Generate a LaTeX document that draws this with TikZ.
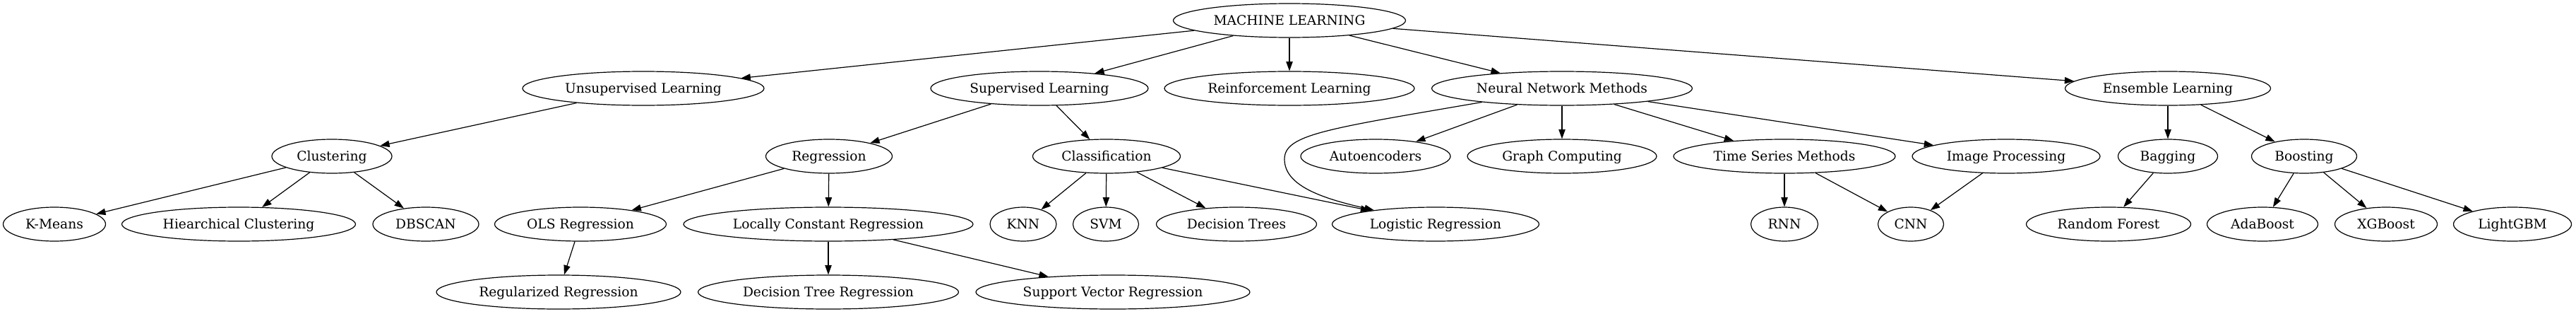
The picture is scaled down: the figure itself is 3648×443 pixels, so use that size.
\documentclass[tikz,border=0pt]{standalone}
\usepackage{fontspec}
\setmainfont{DejaVu Serif}
\usetikzlibrary{shapes.geometric,arrows.meta}
\begin{document}
\begin{tikzpicture}[x=0.75pt,y=-0.75pt,
  nd/.style={ellipse,draw,line width=0.9pt,minimum height=36pt,inner xsep=-60pt,inner ysep=0pt,
             text height=12pt,text depth=2pt,font=\fontsize{14}{16}\selectfont},
  nw/.style={minimum width=#1*0.75pt},
  arr/.style={line width=0.9pt,-{Triangle[length=10pt,width=7pt]}}]
\useasboundingbox (0,0) rectangle (3648,443);
% row 1
\node[nd,nw=329] (ml) at (1826,29) {MACHINE LEARNING};
% row 2
\node[nd,nw=342] (ul)  at (911,125)  {Unsupervised Learning};
\node[nd,nw=308] (sl)  at (1472,125) {Supervised Learning};
\node[nd,nw=354] (rl)  at (1826,125) {Reinforcement Learning};
\node[nd,nw=369] (nnm) at (2212,125) {Neural Network Methods};
\node[nd,nw=291] (el)  at (3070,125) {Ensemble Learning};
% row 3
\node[nd,nw=170] (clu) at (470,221)  {Clustering};
\node[nd,nw=179] (reg) at (1174,221) {Regression};
\node[nd,nw=209] (cls) at (1567,221) {Classification};
\node[nd,nw=212] (ae)  at (1948,221) {Autoencoders};
\node[nd,nw=268] (gc)  at (2212,221) {Graph Computing};
\node[nd,nw=314] (tsm) at (2527,221) {Time Series Methods};
\node[nd,nw=266] (ip)  at (2841,221) {Image Processing};
\node[nd,nw=141] (bag) at (3070,221) {Bagging};
\node[nd,nw=149] (boo) at (3263,221) {Boosting};
% row 4
\node[nd,nw=145] (km)   at (77,317)   {K-Means};
\node[nd,nw=331] (hc)   at (338,317)  {Hiearchical Clustering};
\node[nd,nw=150] (db)   at (603,317)  {DBSCAN};
\node[nd,nw=243] (ols)  at (822,317)  {OLS Regression};
\node[nd,nw=410] (lcr)  at (1173,317) {Locally Constant Regression};
\node[nd,nw=94]  (knn)  at (1449,317) {KNN};
\node[nd,nw=93]  (svm)  at (1566,317) {SVM};
\node[nd,nw=227] (dt)   at (1751,317) {Decision Trees};
\node[nd,nw=293] (lr)   at (2033,317) {Logistic Regression};
\node[nd,nw=95]  (rnn)  at (2527,317) {RNN};
\node[nd,nw=93]  (cnn)  at (2706,317) {CNN};
\node[nd,nw=233] (rf)   at (2986,317) {Random Forest};
\node[nd,nw=157] (ada)  at (3204,317) {AdaBoost};
\node[nd,nw=145] (xgb)  at (3379,317) {XGBoost};
\node[nd,nw=167] (lgbm) at (3558,317) {LightGBM};
% row 5
\node[nd,nw=346] (rr)  at (791,413)  {Regularized Regression};
\node[nd,nw=369] (dtr) at (1173,413) {Decision Tree Regression};
\node[nd,nw=388] (svr) at (1576,413) {Support Vector Regression};
% edges
\foreach \a/\b in {ml/ul,ml/sl,ml/rl,ml/nnm,ml/el,
  ul/clu,clu/km,clu/hc,clu/db,
  sl/reg,sl/cls,reg/ols,reg/lcr,ols/rr,lcr/dtr,lcr/svr,
  cls/knn,cls/svm,cls/dt,cls/lr,
  nnm/ae,nnm/gc,nnm/tsm,nnm/ip,
  tsm/rnn,tsm/cnn,ip/cnn,
  el/bag,el/boo,bag/rf,boo/ada,boo/xgb,boo/lgbm}
  \draw[arr] (\a) -- (\b);
\draw[arr] (nnm) .. controls (1880,182) and (1819,190) .. (1819,225)
  .. controls (1819,262) and (1870,280) .. (lr);
\end{tikzpicture}
\end{document}
